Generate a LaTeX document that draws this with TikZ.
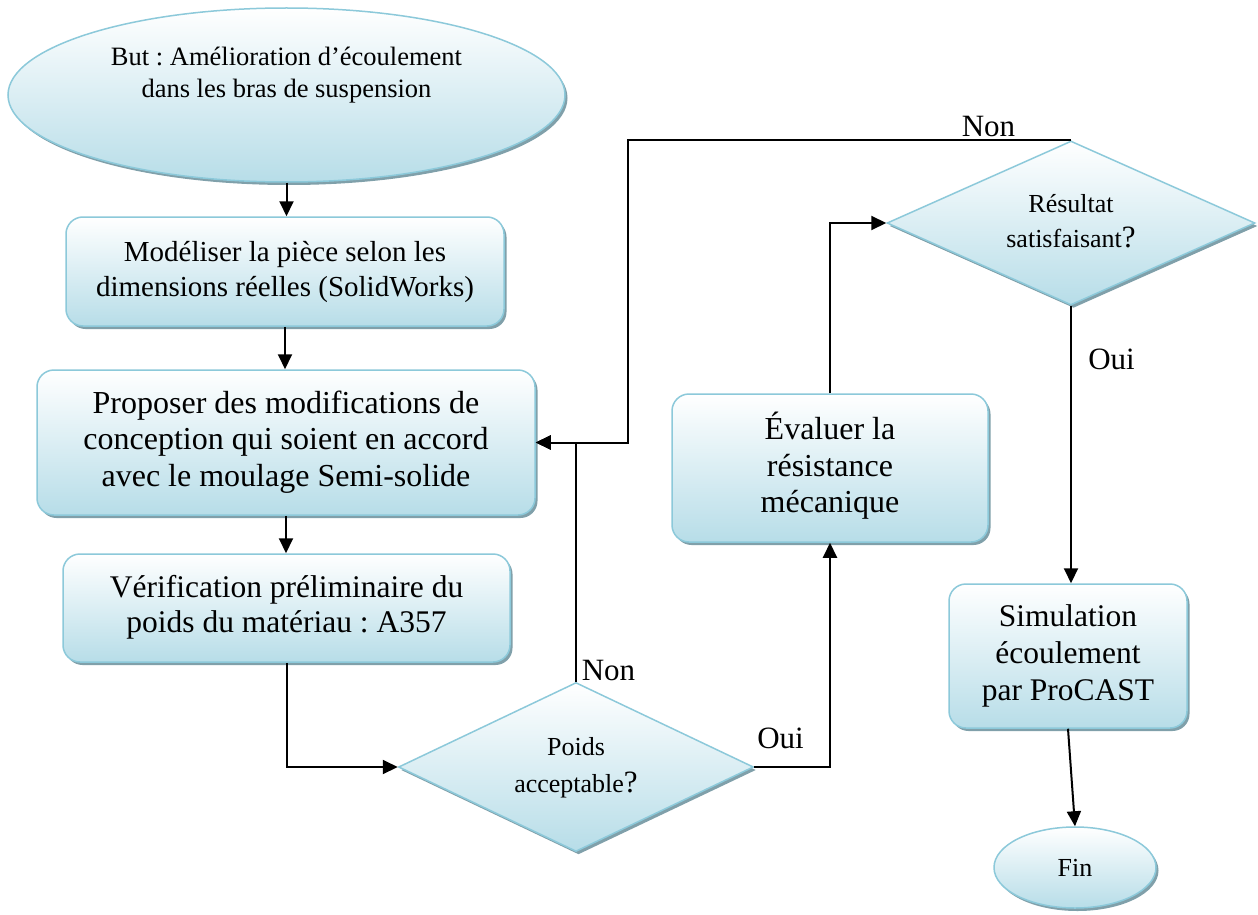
\documentclass[tikz,border=0pt]{standalone}
\usepackage{fontspec}
\setmainfont{Liberation Serif}
\usetikzlibrary{shapes.geometric,arrows.meta,shadows}
\definecolor{bord}{RGB}{140,201,218}
\definecolor{fillb}{RGB}{183,221,232}
\definecolor{shad}{RGB}{128,160,170}
\newcommand{\liftup}[2]{\raisebox{#1}[\height][\depth]{#2}}
\newcommand{\mylines}[1]{\begin{tabular}{@{}c@{}}#1\end{tabular}}
\newcommand{\bigq}{{\fontsize{31}{36}\selectfont ?}}
\frenchspacing
\begin{document}
\begin{tikzpicture}[x=1pt,y=-1pt,
  flowshape/.style={draw=bord, line width=1.5pt, top color=white, bottom color=fillb,
    drop shadow={shadow xshift=2.5pt, shadow yshift=-3pt, fill=shad, opacity=1},
    inner sep=0pt, align=center},
  procbox/.style={flowshape, rectangle, rounded corners=17pt},
  termshape/.style={flowshape, ellipse},
  decshape/.style={flowshape, diamond},
  conn/.style={line width=2pt, -{Triangle[length=15pt,width=14pt]}},
  plainline/.style={line width=2pt},
  lbl/.style={inner sep=0pt, font=\fontsize{31}{36}\selectfont}
]
\path[use as bounding box, fill=white] (0,0) rectangle (1258,915);

% nodes
\node[termshape, minimum width=557pt, minimum height=174pt,
      font=\fontsize{26.5}{32}\selectfont] (but) at (286.5,95)
  {\liftup{20pt}{\mylines{But : Amélioration d’écoulement\\dans les bras de suspension}}};

\node[procbox, minimum width=438pt, minimum height=109pt,
      font=\fontsize{29}{35}\selectfont] (model) at (285,271.5)
  {\mylines{Modéliser la pièce selon les\\dimensions réelles (SolidWorks)}};

\node[procbox, minimum width=498pt, minimum height=145pt,
      font=\fontsize{32}{36.7}\selectfont] (prop) at (286,442.5)
  {\mylines{Proposer des modifications de\\conception qui soient en accord\\avec le moulage Semi-solide}};

\node[procbox, minimum width=447pt, minimum height=108pt,
      font=\fontsize{31.5}{35}\selectfont] (verif) at (286.5,608)
  {\mylines{Vérification préliminaire du\\poids du matériau : A357}};

\node[decshape, aspect=2.1, minimum width=355pt, minimum height=169pt,
      font=\fontsize{26}{36.7}\selectfont] (d1) at (576,767)
  {\mylines{Poids\\acceptable\bigq}};

\node[procbox, minimum width=316pt, minimum height=148pt,
      font=\fontsize{32}{36.5}\selectfont] (eval) at (830,468)
  {\mylines{Évaluer la\\résistance\\mécanique}};

\node[decshape, aspect=2.24, minimum width=368pt, minimum height=164pt,
      font=\fontsize{26}{35}\selectfont] (d2) at (1071,223)
  {\mylines{Résultat\\satisfaisant\bigq}};

\node[procbox, minimum width=238pt, minimum height=144pt,
      font=\fontsize{31.5}{36.7}\selectfont] (sim) at (1068,656)
  {\mylines{Simulation\\écoulement\\par ProCAST}};

\node[termshape, minimum width=162pt, minimum height=81pt,
      font=\fontsize{26}{30}\selectfont] (fin) at (1075,867.5) {Fin};

% connectors
\draw[conn] (but.south) -- (but.south |- model.north);
\draw[conn] (model.south) -- (model.south |- prop.north);
\draw[conn] (prop.south) -- (prop.south |- verif.north);
\draw[conn] (verif.south) |- (d1.west);
\draw[conn] (d1.north) |- (prop.east);
\path (prop.east) ++(92,0) coordinate (j);
\draw[conn] (d2.north) -| (j) -- (prop.east);
\draw[conn] (d1.east) -| (eval.south);
\draw[conn] (eval.north) |- (d2.west);
\draw[conn] (d2.south) -- (d2.south |- sim.north);
\draw[conn] (sim.south) -- (fin.north);

% labels
\node[lbl] (non1) at (608.5,670) {Non};
\node[lbl] (non2) at (988.5,126.5) {Non};
\node[lbl] (oui1) at (780.5,738) {Oui};
\node[lbl] (oui2) at (1111.5,359) {Oui};
\end{tikzpicture}
\end{document}
